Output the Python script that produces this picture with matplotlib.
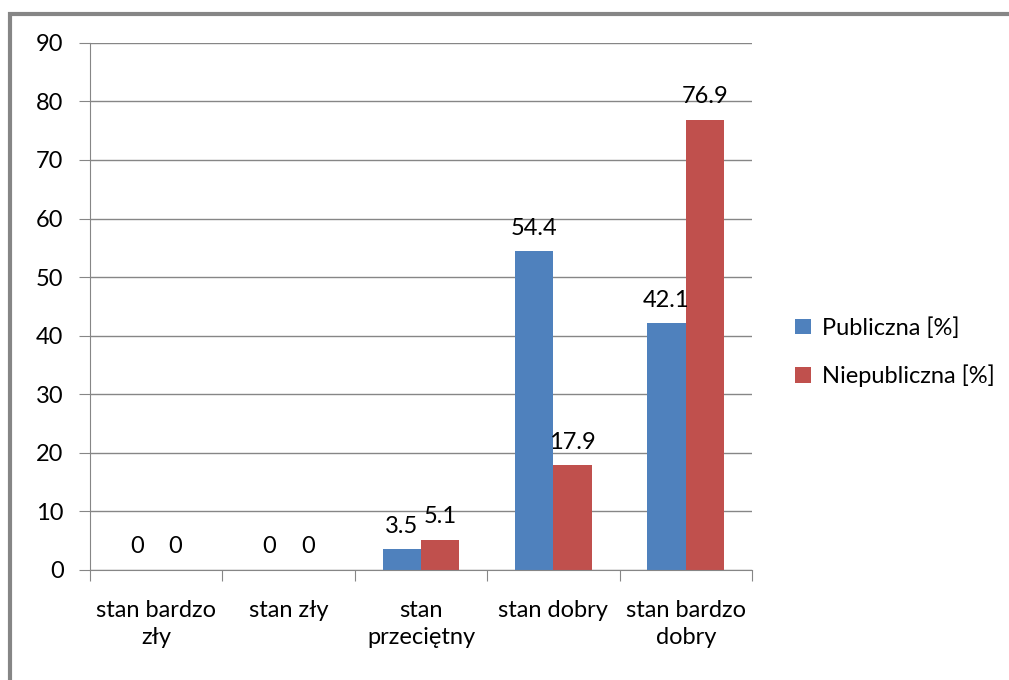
import numpy as np
import matplotlib.pyplot as plt
from matplotlib.patches import Rectangle

# data
categories = ['stan bardzo\nzły', 'stan zły', 'stan\nprzeciętny', 'stan dobry', 'stan bardzo\ndobry']
publiczna = [0, 0, 3.5, 54.4, 42.1]
niepubliczna = [0, 0, 5.1, 17.9, 76.9]
series_names = ['Publiczna [%]', 'Niepubliczna [%]']

plt.rcParams['font.family'] = ['Lato', 'DejaVu Sans']

fig = plt.figure(figsize=(10.09, 6.8), dpi=100)
ax = fig.add_axes([0.0892, 0.162, 0.656, 0.775])

# outer frame like the office chart border (only left and top visible)
fig.patches.append(Rectangle((0.0104, -0.05), 1.05, 1.029, transform=fig.transFigure,
                             fill=False, edgecolor='#868686', linewidth=3))

x = np.arange(len(categories))
w = 0.29
b1 = ax.bar(x - w / 2, publiczna, w, color='#4F81BD', label=series_names[0])
b2 = ax.bar(x + w / 2, niepubliczna, w, color='#C0504D', label=series_names[1])

for bars, vals in [(b1, publiczna), (b2, niepubliczna)]:
    for r, v in zip(bars, vals):
        ax.annotate('%g' % v, (r.get_x() + r.get_width() / 2, v), xytext=(0, 9),
                    textcoords='offset points', ha='center', va='bottom', fontsize=17)

ax.set_xlim(-0.5, len(categories) - 0.5)
ax.set_ylim(0, 90)
ax.set_yticks(range(0, 91, 10))
ax.set_xticks(np.arange(-0.5, len(categories), 1))
ax.set_xticklabels([])
ax.set_xticks(x, minor=True)
ax.set_xticklabels(categories, minor=True, fontsize=17, linespacing=1.35)
ax.tick_params(axis='x', which='minor', length=0, pad=22)
ax.tick_params(axis='x', which='major', length=8, color='#868686')
ax.tick_params(axis='y', length=8, color='#868686', labelsize=17, pad=11)

ax.yaxis.grid(True, color='#868686', linewidth=1)
ax.set_axisbelow(True)
for s in ['top', 'right']:
    ax.spines[s].set_visible(False)
for s in ['left', 'bottom']:
    ax.spines[s].set_color('#868686')

fig.legend(loc='center left', bbox_to_anchor=(0.767, 0.482), frameon=False, fontsize=17,
           handlelength=0.65, handleheight=0.65, labelspacing=1.1, handletextpad=0.5)

fig.savefig('out.png', dpi=100)
